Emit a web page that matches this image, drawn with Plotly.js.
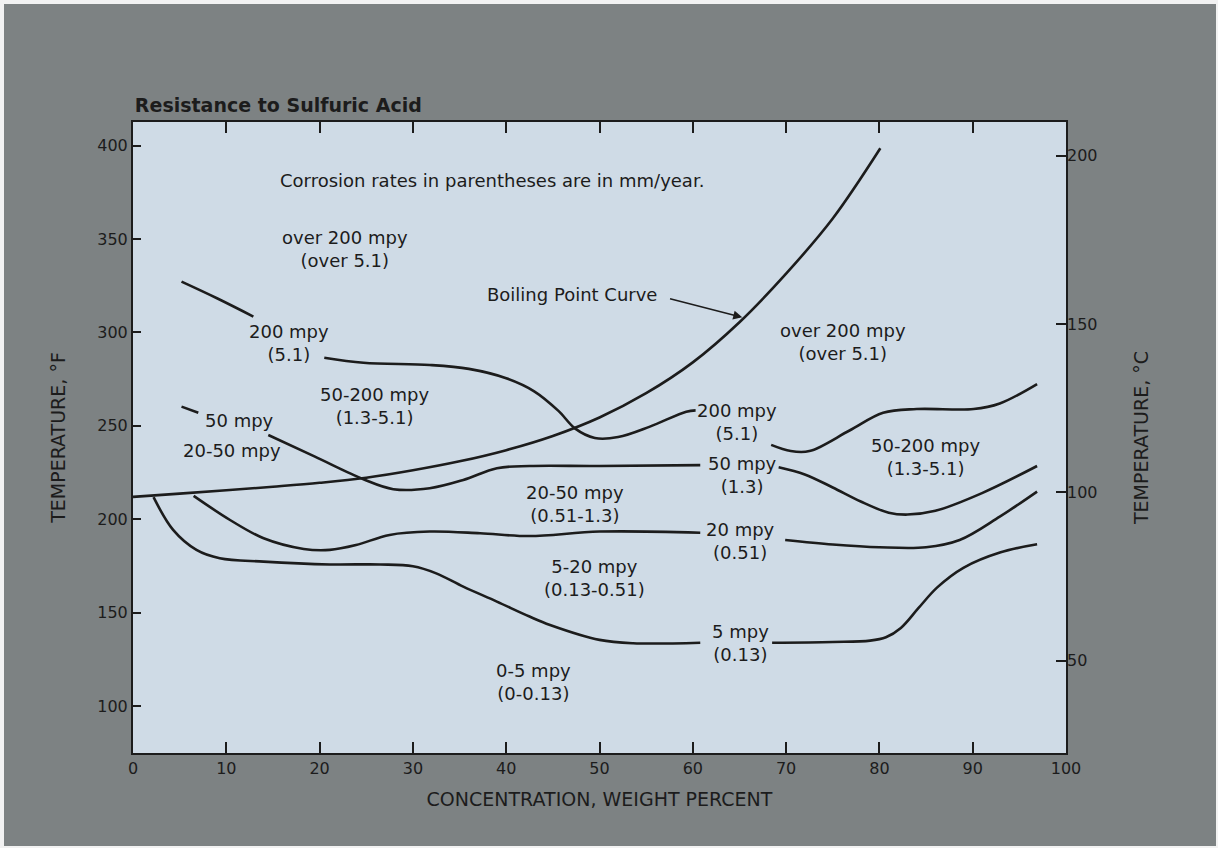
<!DOCTYPE html>
<html>
<head>
<meta charset="utf-8">
<script src="https://cdn.plot.ly/plotly-3.0.1.min.js"></script>
<style>
  html, body { margin: 0; padding: 0; background: #f2f2f2; }
  #chart { position: absolute; left: 4px; top: 4px; width: 1212px; height: 842px; }
</style>
</head>
<body>
<div id="chart"></div>
<script>
// ---- Data (concentration in weight %, temperature in °F) ----
const boilX = [0, 5, 10, 15, 20, 25, 30, 35, 40, 45, 50, 55, 60, 65, 70, 75, 80.1];
const boilF = [212, 213.7, 215.5, 217.4, 219.5, 222.2, 226.2, 231, 237, 244.6, 254.5, 267.5, 284, 305.5, 331.5, 361, 398.6];

const mpy200aX = [5.2, 9.0, 12.9];
const mpy200aF = [327.2, 318.3, 308.5];
const mpy200bX = [20.5, 24.7, 31.8, 36, 40, 43, 45.6, 47.4, 49.5, 52, 55.4, 59.3, 60.3];
const mpy200bF = [286.5, 283.8, 282.6, 280.5, 275.5, 268.5, 258, 248.5, 243.5, 244, 249.6, 257.6, 258.3];
const mpy200cX = [68.4, 70.5, 72.5, 76.8, 80.4, 84, 90.1, 92.9, 96.9];
const mpy200cF = [239.8, 236.5, 236.5, 247.5, 257, 259, 259, 262, 272.4];

const mpy50aX = [5.2, 7.0];
const mpy50aF = [260.3, 257];
const mpy50bX = [14.5, 19.5, 24.7, 27.9, 31.8, 35.4, 39, 42.5, 50, 60.8];
const mpy50bF = [245.1, 233.5, 221.4, 216.1, 216.6, 221, 227.3, 228.5, 228.5, 229];
const mpy50cX = [69.2, 72, 75, 78, 81, 83, 86, 91, 96.9];
const mpy50cF = [227.8, 224, 217, 209.5, 203.5, 202.5, 204.5, 214, 228.5];

const mpy20aX = [6.5, 10.4, 14, 18.3, 21.1, 23.9, 27.5, 31.8, 37.2, 42.5, 50, 60.8];
const mpy20aF = [212.5, 199.6, 189.8, 184.1, 183.6, 186.2, 191.6, 193.4, 192.5, 191, 193.4, 192.8];
const mpy20bX = [69.9, 75, 80, 85, 88.6, 92.9, 96.9];
const mpy20bF = [188.9, 186.5, 185, 185, 188.9, 201.4, 214.8];

const mpy5aX = [2.2, 4.3, 6.8, 9.3, 14, 21.1, 26.5, 30, 32.5, 35.4, 39, 42.5, 44.7, 50, 53.6, 60.8];
const mpy5aF = [211.8, 194.3, 183.6, 179.1, 177.3, 175.8, 175.8, 174.8, 171, 163.9, 155.9, 147.9, 143.4, 135.4, 133.6, 133.9];
const mpy5bX = [68.5, 75, 79, 80.7, 82.3, 84.2, 86.2, 89, 93, 96.9];
const mpy5bF = [133.9, 134.3, 135, 136.8, 141.8, 152.5, 163.5, 174, 182.3, 186.6];

const xTicks = [0, 10, 20, 30, 40, 50, 60, 70, 80, 90, 100];
const fTicks = [100, 150, 200, 250, 300, 350, 400];
const cTicks = [50, 100, 150, 200];

const regionLabels = [
  "over 200 mpy<br>(over 5.1)", "200 mpy<br>(5.1)", "50-200 mpy<br>(1.3-5.1)", "50 mpy", "20-50 mpy",
  "20-50 mpy<br>(0.51-1.3)", "5-20 mpy<br>(0.13-0.51)", "0-5 mpy<br>(0-0.13)",
  "200 mpy<br>(5.1)", "50 mpy<br>(1.3)", "20 mpy<br>(0.51)", "5 mpy<br>(0.13)",
  "over 200 mpy<br>(over 5.1)", "50-200 mpy<br>(1.3-5.1)"
];
const labelX = [22.7, 16.7, 25.9, 11.4, 10.6, 47.4, 49.5, 42.9, 64.7, 65.3, 65.1, 65.1, 76.1, 84.9];
const labelF = [344.7, 294.4, 260.7, 252.8, 237, 208.2, 168.6, 113.1, 251.9, 223.7, 188.4, 133.8, 294.8, 233.5];

// ---- Build ----
const ink = '#1c1c1c';
const font = 'DejaVu Sans, sans-serif';
const segs = [
  [boilX, boilF], [mpy200aX, mpy200aF], [mpy200bX, mpy200bF], [mpy200cX, mpy200cF],
  [mpy50aX, mpy50aF], [mpy50bX, mpy50bF], [mpy50cX, mpy50cF],
  [mpy20aX, mpy20aF], [mpy20bX, mpy20bF], [mpy5aX, mpy5aF], [mpy5bX, mpy5bF]
];
const traces = segs.map(s => ({
  x: s[0], y: s[1], type: 'scatter', mode: 'lines',
  line: {color: ink, width: 2.6, shape: 'spline', smoothing: 1},
  hoverinfo: 'skip', showlegend: false, xaxis: 'x', yaxis: 'y'
}));
// invisible trace to activate the °C axis
traces.push({x: [0], y: [100], type: 'scatter', mode: 'none', yaxis: 'y2', xaxis: 'x', showlegend: false, hoverinfo: 'skip'});

const annotations = regionLabels.map((t, i) => ({
  x: labelX[i], y: labelF[i], xref: 'x', yref: 'y', text: t, showarrow: false,
  font: {family: font, size: 18, color: ink}, align: 'center', xanchor: 'center', yanchor: 'middle'
}));
annotations.push({x: 15.5, y: 381.5, xref: 'x', yref: 'y', text: 'Corrosion rates in parentheses are in mm/year.',
  showarrow: false, xanchor: 'left', yanchor: 'middle', font: {family: font, size: 18, color: ink}});
annotations.push({x: 47.1, y: 320.1, xref: 'x', yref: 'y', text: 'Boiling Point Curve',
  showarrow: false, xanchor: 'center', yanchor: 'middle', font: {family: font, size: 18, color: ink}});
annotations.push({x: 65.3, y: 308.1, xref: 'x', yref: 'y', ax: 57.4, ay: 318.3, axref: 'x', ayref: 'y',
  text: '', showarrow: true, arrowhead: 2, arrowsize: 1.2, arrowwidth: 1.5, arrowcolor: ink});

const layout = {
  width: 1212, height: 842,
  paper_bgcolor: '#7d8283', plot_bgcolor: '#cfdbe6',
  margin: {l: 129, r: 150, t: 118, b: 93, pad: 0},
  title: {text: 'Resistance to Sulfuric Acid', x: 0.002, xref: 'paper', xanchor: 'left',
          y: 0.88, yref: 'container', yanchor: 'middle',
          font: {family: font, size: 19, color: ink, weight: 'bold'}},
  xaxis: {range: [0, 100], tickvals: xTicks, ticks: 'inside', ticklen: 11, tickwidth: 2, tickcolor: ink,
          showline: true, linecolor: ink, linewidth: 2, mirror: 'ticks', showgrid: false, zeroline: false,
          tickfont: {family: font, size: 16, color: ink},
          title: {text: 'CONCENTRATION, WEIGHT PERCENT', standoff: 15, font: {family: font, size: 19, color: ink}}},
  yaxis: {range: [74.84, 412.69], tickvals: fTicks, ticks: 'inside', ticklen: 8, tickwidth: 2, tickcolor: ink,
          showline: true, linecolor: ink, linewidth: 2, mirror: true, showgrid: false, zeroline: false,
          tickfont: {family: font, size: 16, color: ink},
          title: {text: 'TEMPERATURE, °F', standoff: 27, font: {family: font, size: 19, color: ink}}},
  yaxis2: {overlaying: 'y', side: 'right', range: [22.6, 210], tickvals: cTicks, ticks: 'inside', ticklen: 10,
           tickwidth: 2, tickcolor: ink, showline: false, showgrid: false, zeroline: false,
           tickfont: {family: font, size: 16, color: ink},
           title: {text: 'TEMPERATURE, °C', standoff: 38, font: {family: font, size: 19, color: ink}}},
  annotations: annotations,
  showlegend: false
};
Plotly.newPlot('chart', traces, layout, {staticPlot: true, displayModeBar: false});
</script>
</body>
</html>
